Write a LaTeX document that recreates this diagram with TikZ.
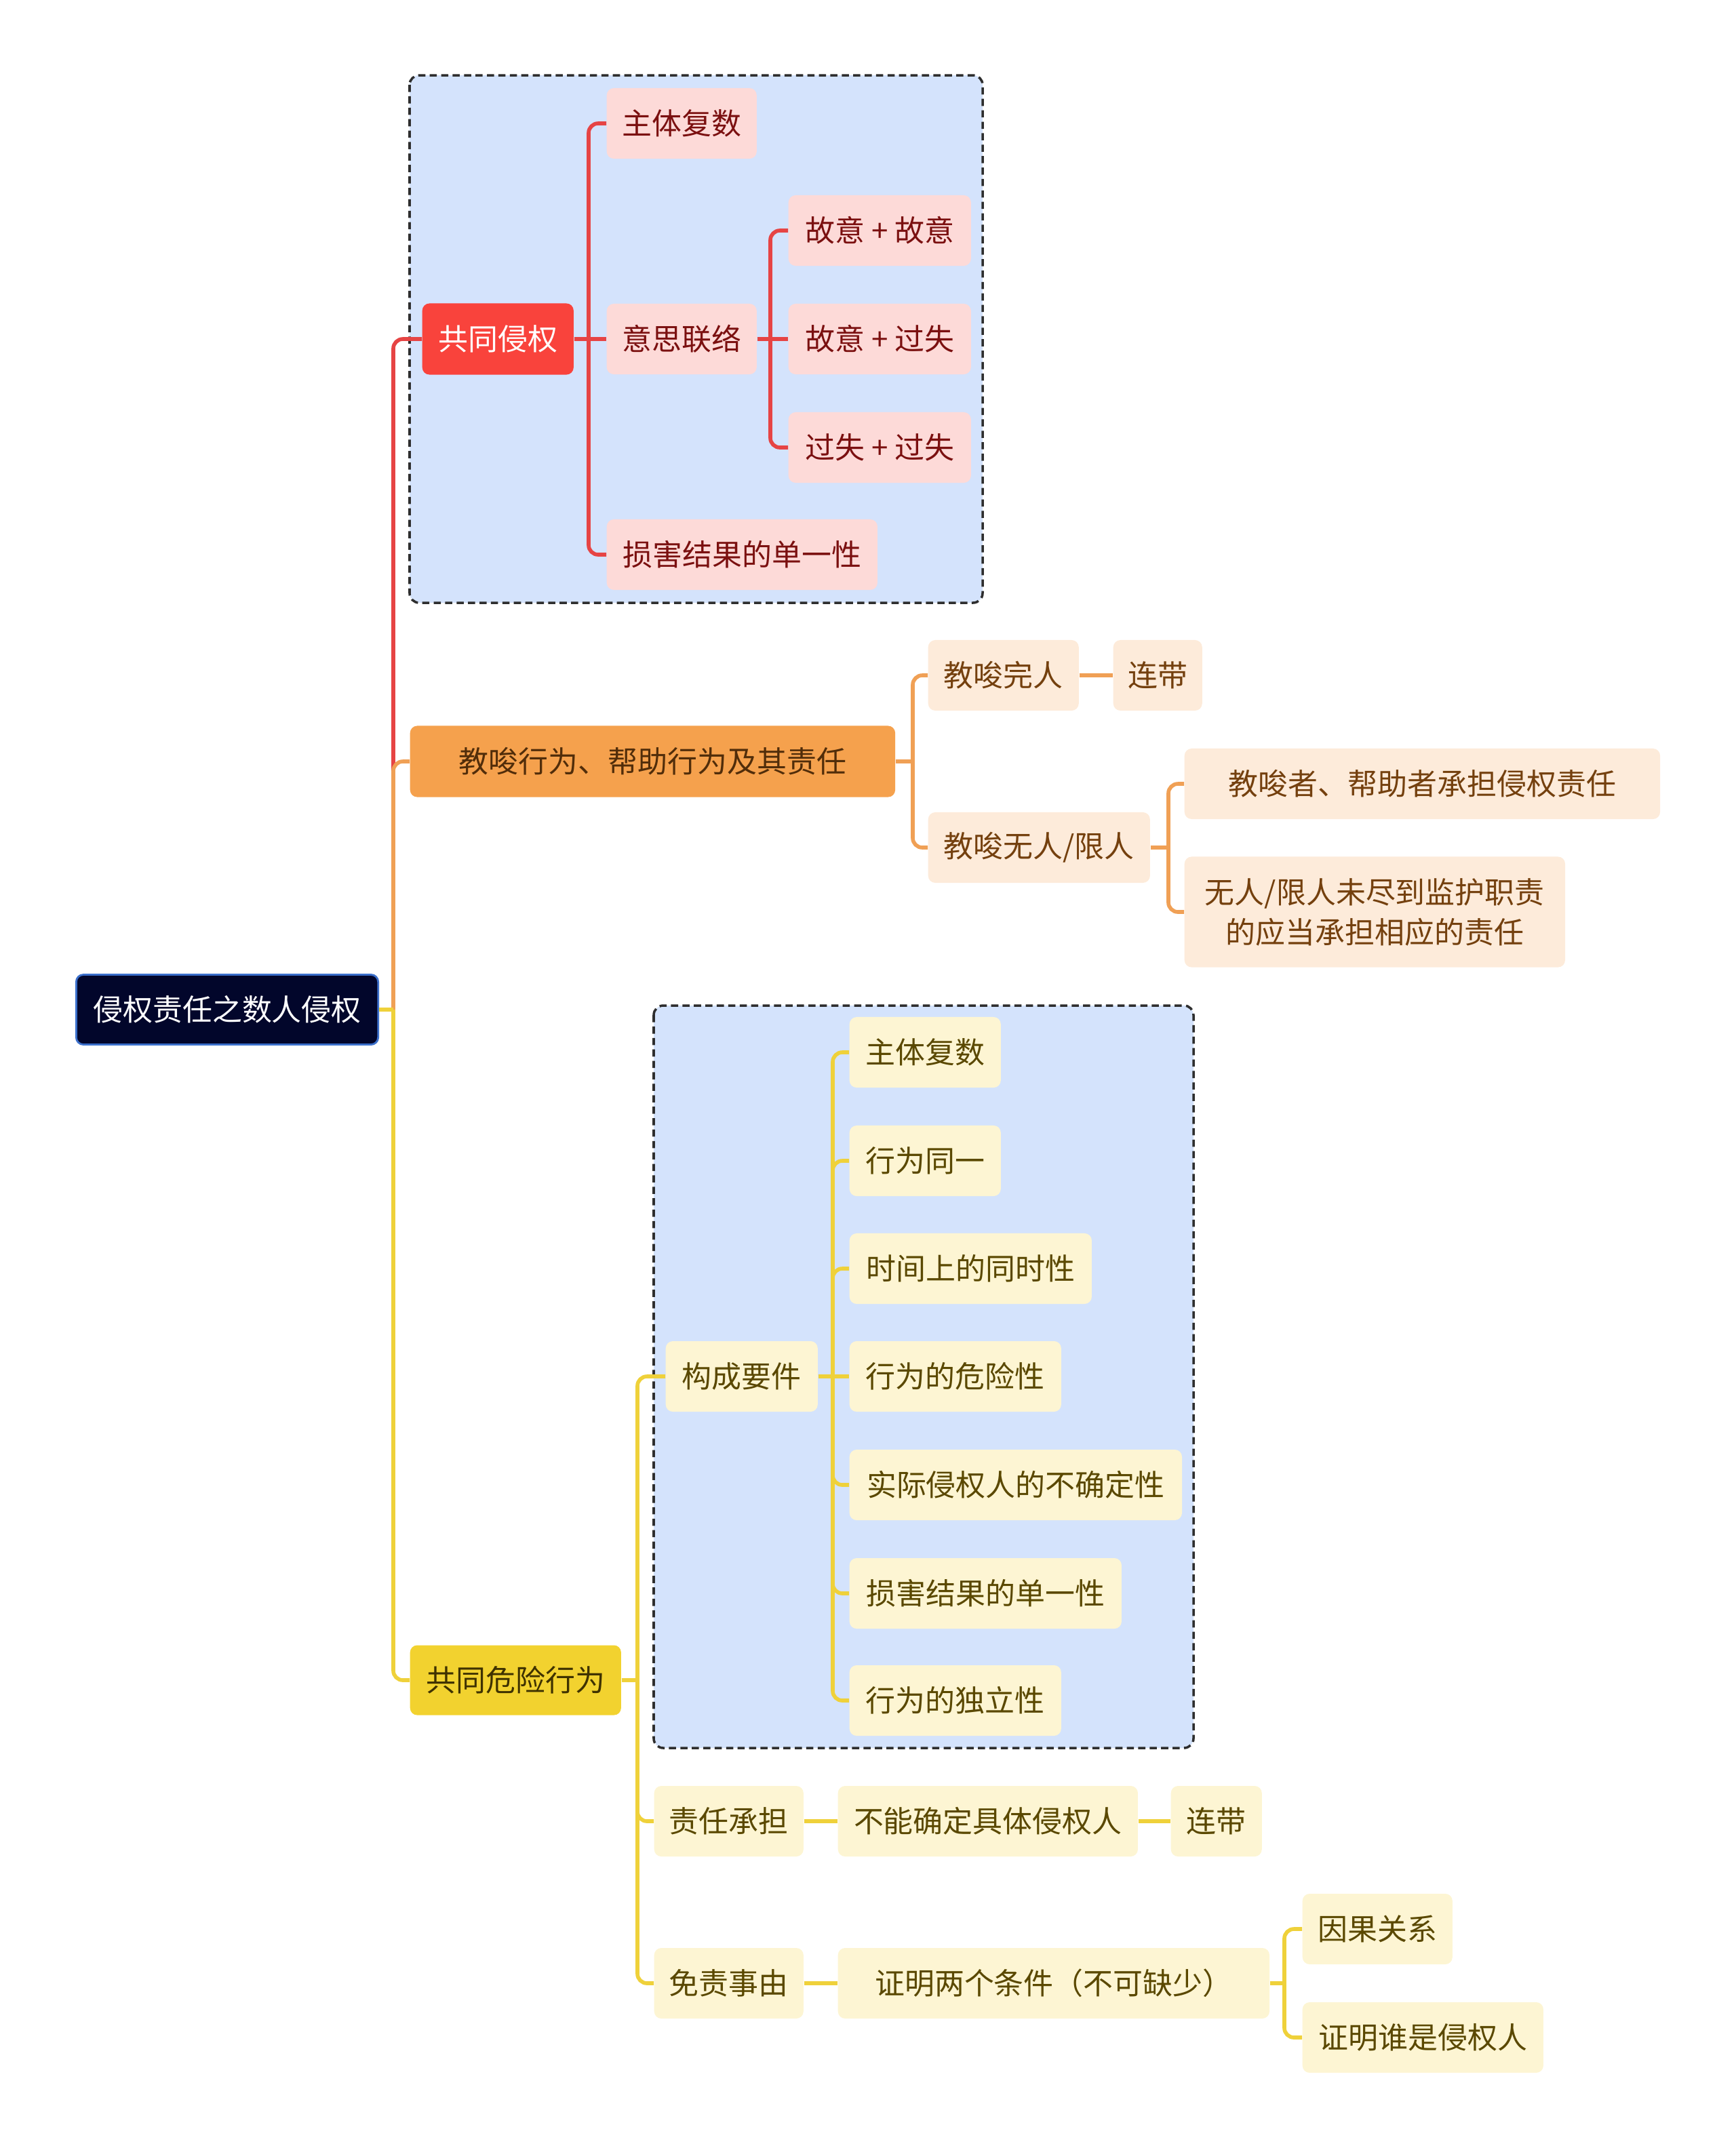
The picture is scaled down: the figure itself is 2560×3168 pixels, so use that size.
\documentclass[tikz,border=0pt]{standalone}
\usepackage{fontspec}
\setmainfont{Noto Sans CJK SC}
\usetikzlibrary{positioning}
\definecolor{rootFill}{HTML}{02062B}
\definecolor{rootEdge}{HTML}{3B6FCB}
\definecolor{groupFill}{HTML}{D4E3FC}
\definecolor{groupEdge}{HTML}{2E2E2E}
\definecolor{redTop}{HTML}{F9433C}
\definecolor{redLeaf}{HTML}{FDDAD8}
\definecolor{redText}{HTML}{7B1010}
\definecolor{redLine}{HTML}{E64444}
\definecolor{orgTop}{HTML}{F5A14D}
\definecolor{orgLeaf}{HTML}{FDEBDA}
\definecolor{orgText}{HTML}{74400E}
\definecolor{orgLine}{HTML}{F0A055}
\definecolor{ylwTop}{HTML}{F2D22F}
\definecolor{ylwLeaf}{HTML}{FDF5D3}
\definecolor{ylwText}{HTML}{5A4800}
\definecolor{ylwLine}{HTML}{EFD13A}
\tikzset{
  topicbox/.style={rounded corners=3pt, minimum height=1.04cm, inner sep=0pt,
    anchor=west, align=center, font=\fontsize{12.5pt}{16.8pt}\selectfont},
  rootbox/.style={topicbox, fill=rootFill, draw=rootEdge, line width=0.8pt, text=white},
  redMainBox/.style={topicbox, fill=redTop, text=white},
  redBox/.style={topicbox, fill=redLeaf, text=redText},
  orgMainBox/.style={topicbox, fill=orgTop, text=orgText!70!black},
  orgBox/.style={topicbox, fill=orgLeaf, text=orgText},
  ylwMainBox/.style={topicbox, fill=ylwTop, text=ylwText!70!black},
  ylwBox/.style={topicbox, fill=ylwLeaf, text=ylwText},
  groupbox/.style={draw=groupEdge, fill=groupFill, line width=1pt,
    dash pattern=on 3pt off 1.8pt, rounded corners=4pt},
  link/.style={line width=1.6pt, rounded corners=4pt},
  redLink/.style={link, draw=redLine},
  orgLink/.style={link, draw=orgLine},
  ylwLink/.style={link, draw=ylwLine},
}

\begin{document}
\begin{tikzpicture}[x=0.01cm, y=-0.01cm]
  \useasboundingbox (0,0) rectangle (2560,3168);
  % dashed groups
  \draw[groupbox] (604,111) rectangle (1449,889);
  \draw[groupbox] (964,1483) rectangle (1760,2578);

  % root
  \node[rootbox, minimum width=4.45cm, minimum height=1.03cm] (root) at (111,1489) {侵权责任之数人侵权};

  % branch 1
  \node[redMainBox, minimum width=2.23cm, minimum height=1.05cm] (gqqq) at (622,500) {共同侵权};
  \node[redBox, minimum width=2.21cm] (ztfsA) at (894,182) {主体复数};
  \node[redBox, minimum width=2.21cm] (yslx) at (894,500) {意思联络};
  \node[redBox, minimum width=3.99cm] (shjgA) at (894,818) {损害结果的单一性};
  \node[redBox, minimum width=2.69cm] (gygy) at (1162,340) {故意 + 故意};
  \node[redBox, minimum width=2.69cm] (gygs) at (1162,500) {故意 + 过失};
  \node[redBox, minimum width=2.69cm] (gsgs) at (1162,660) {过失 + 过失};

  % branch 2
  \node[orgMainBox, minimum width=7.15cm, minimum height=1.05cm] (jsxw) at (604,1123) {教唆行为、帮助行为及其责任};
  \node[orgBox, minimum width=2.22cm] (jswr) at (1368,996) {教唆完人};
  \node[orgBox, minimum width=1.31cm] (ldA) at (1641,996) {连带};
  \node[orgBox, minimum width=3.27cm] (jswu) at (1368,1250) {教唆无人/限人};
  \node[orgBox, minimum width=7.01cm] (jszc) at (1746,1156) {教唆者、帮助者承担侵权责任};
  \node[orgBox, minimum width=5.61cm, minimum height=1.63cm] (wrxr) at (1746,1345) {无人/限人未尽到监护职责\\的应当承担相应的责任};

  % branch 3
  \node[ylwMainBox, minimum width=3.11cm, minimum height=1.03cm] (gtwx) at (604,2478) {共同危险行为};
  \node[ylwBox, minimum width=2.24cm] (gcyj) at (981,2030) {构成要件};
  \node[ylwBox, minimum width=2.23cm] (ztfsB) at (1252,1552) {主体复数};
  \node[ylwBox, minimum width=2.23cm] (xwty) at (1252,1712) {行为同一};
  \node[ylwBox, minimum width=3.57cm] (sjss) at (1252,1871) {时间上的同时性};
  \node[ylwBox, minimum width=3.12cm] (xwwx) at (1252,2030) {行为的危险性};
  \node[ylwBox, minimum width=4.90cm] (sjqq) at (1252,2190) {实际侵权人的不确定性};
  \node[ylwBox, minimum width=4.01cm] (shjgB) at (1252,2350) {损害结果的单一性};
  \node[ylwBox, minimum width=3.12cm] (xwdl) at (1252,2508) {行为的独立性};
  \node[ylwBox, minimum width=2.20cm] (zrcd) at (964,2686) {责任承担};
  \node[ylwBox, minimum width=4.42cm] (bnqd) at (1235,2686) {不能确定具体侵权人};
  \node[ylwBox, minimum width=1.34cm] (ldB) at (1726,2686) {连带};
  \node[ylwBox, minimum width=2.20cm] (mzsy) at (964,2925) {免责事由};
  \node[ylwBox, minimum width=6.36cm] (zmlg) at (1235,2925) {证明两个条件（不可缺少）};
  \node[ylwBox, minimum width=2.21cm] (yggx) at (1920,2845) {因果关系};
  \node[ylwBox, minimum width=3.55cm] (zmss) at (1920,3005) {证明谁是侵权人};

  % spines
  \coordinate (rootSpine) at (580,1489);
  \coordinate (gqqqSpine) at (868,500);
  \coordinate (yslxSpine) at (1136,500);
  \coordinate (jsxwSpine) at (1346,1123);
  \coordinate (jswuSpine) at (1723,1250);
  \coordinate (gtwxSpine) at (940,2478);
  \coordinate (gcyjSpine) at (1228,2030);
  \coordinate (zmlgSpine) at (1894,2925);

  % connectors
  \draw[redLink] (rootSpine) |- (gqqq.west);
  \draw[orgLink] (rootSpine) |- (jsxw.west);
  \draw[ylwLink] (rootSpine) |- (gtwx.west);
  \draw[ylwLink] (root.east) -- (rootSpine);

  \draw[redLink] (gqqq.east) -- (yslx.west);
  \foreach \leaf in {ztfsA,shjgA}
    \draw[redLink] (gqqqSpine) |- (\leaf.west);
  \draw[redLink] (yslx.east) -- (gygs.west);
  \foreach \leaf in {gygy,gsgs}
    \draw[redLink] (yslxSpine) |- (\leaf.west);

  \draw[orgLink] (jsxw.east) -- (jsxwSpine);
  \foreach \leaf in {jswr,jswu}
    \draw[orgLink] (jsxwSpine) |- (\leaf.west);
  \draw[orgLink] (jswr.east) -- (ldA.west);
  \draw[orgLink] (jswu.east) -- (jswuSpine);
  \foreach \leaf in {jszc,wrxr}
    \draw[orgLink] (jswuSpine) |- (\leaf.west);

  \draw[ylwLink] (gtwx.east) -- (gtwxSpine);
  \foreach \leaf in {gcyj,zrcd,mzsy}
    \draw[ylwLink] (gtwxSpine) |- (\leaf.west);
  \draw[ylwLink] (gcyj.east) -- (xwwx.west);
  \foreach \leaf in {ztfsB,xwty,sjss,sjqq,shjgB,xwdl}
    \draw[ylwLink] (gcyjSpine) |- (\leaf.west);
  \draw[ylwLink] (zrcd.east) -- (bnqd.west);
  \draw[ylwLink] (bnqd.east) -- (ldB.west);
  \draw[ylwLink] (mzsy.east) -- (zmlg.west);
  \draw[ylwLink] (zmlg.east) -- (zmlgSpine);
  \foreach \leaf in {yggx,zmss}
    \draw[ylwLink] (zmlgSpine) |- (\leaf.west);
\end{tikzpicture}
\end{document}
